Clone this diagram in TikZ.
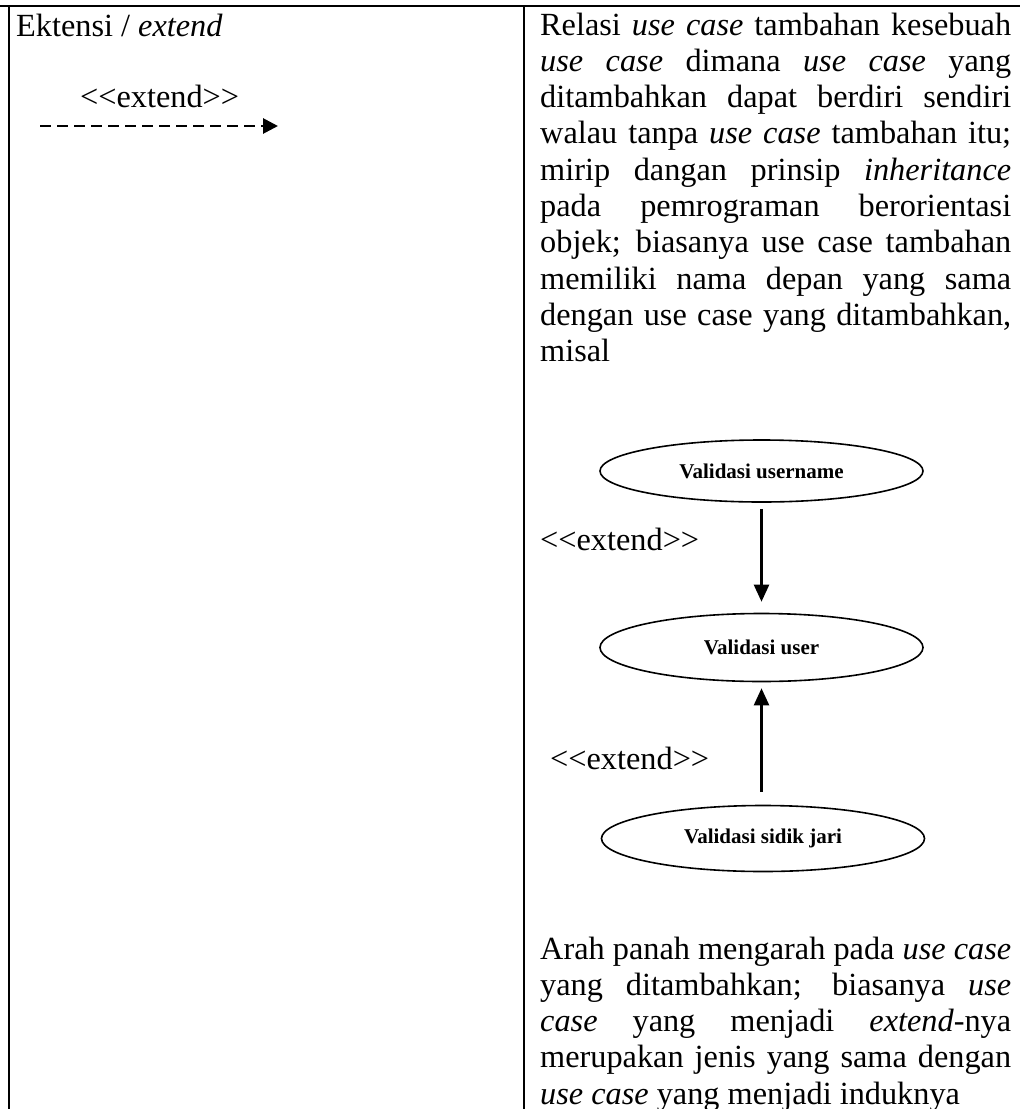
\documentclass[tikz,border=0pt]{standalone}
\usepackage{fontspec}
\setmainfont{Liberation Serif}
\usetikzlibrary{arrows.meta,shapes.geometric}

% one justified line of the description column
\newcommand\jline[1]{\hbox to 471pt{#1}}
% stereotype label, kerns keep << and >> from becoming guillemets
\newcommand\extendlabel{<\kern0pt<extend>\kern0pt>}

\tikzset{
  rule/.style={line width=2pt},
  bodytext/.style={anchor=base west, inner sep=0pt, font=\fontsize{32.3}{36.3}\selectfont},
  usecase/.style={ellipse, draw, line width=1.6pt, inner sep=0pt,
    minimum width=323pt, font=\fontsize{21}{24}\selectfont\bfseries},
  relation/.style={line width=2.4pt, -{Triangle[length=17pt,width=15pt]}},
  dashrel/.style={line width=2.8pt, dash pattern=on 11pt off 6pt,
    -{Triangle[length=15pt,width=15pt]}}
}

\begin{document}
\begin{tikzpicture}[x=1pt,y=-1pt]
\useasboundingbox (0,0) rectangle (1020,1109);
\fill[white] (0,0) rectangle (1020,1109);

% table rules
\draw[rule] (0,6) -- (1020,6);
\draw[rule] (9,5) -- (9,1109);
\draw[rule] (524,5) -- (524,1109);

% left column: symbol
\node[bodytext] (name) at (16,36) {Ektensi / \textit{extend}};
\node[bodytext] (symlabel) at (80,107) {\extendlabel};
\coordinate (symstart) at (40,126);
\coordinate (symend) at (278,126);
\draw[dashrel] (symstart) -- (symend);

% right column: description
\node[bodytext] (desc) at (540,35) {\vtop{\baselineskip=36.3pt\lineskiplimit=-100pt
  \jline{Relasi \textit{use case} tambahan kesebuah}
  \jline{\textit{use case} dimana \textit{use case} yang}
  \jline{ditambahkan dapat berdiri sendiri}
  \jline{walau tanpa \textit{use case} tambahan itu;}
  \jline{mirip dangan prinsip \textit{inheritance}}
  \jline{pada pemrograman berorientasi}
  \jline{objek; biasanya use case tambahan}
  \jline{memiliki nama depan yang sama}
  \jline{dengan use case yang ditambahkan,}
  \hbox{misal}}};

% example use case diagram
\node[usecase, minimum height=62pt] (vu) at (761.5,471) {Validasi username};
\node[usecase, minimum height=68pt] (vus) at (761.5,647.5) {Validasi user};
\node[usecase, minimum height=66pt] (vsj) at (763,838.5) {Validasi sidik jari};

\draw[relation, shorten <=6pt, shorten >=11pt] (vu.south) -- (vus.north);
\draw[relation, shorten <=13pt, shorten >=6pt] (vsj.north -| vus.south) -- (vus.south);

\node[bodytext] (ext1) at (540,550) {\extendlabel};
\node[bodytext] (ext2) at (550,769) {\extendlabel};

\node[bodytext] (note) at (540,959) {\vtop{\baselineskip=36.3pt\lineskiplimit=-100pt
  \jline{Arah panah mengarah pada \textit{use case}}
  \jline{yang ditambahkan; biasanya \textit{use}}
  \jline{\textit{case} yang menjadi \textit{extend}-nya}
  \jline{merupakan jenis yang sama dengan}
  \hbox{\textit{use case} yang menjadi induknya}}};
\end{tikzpicture}
\end{document}
